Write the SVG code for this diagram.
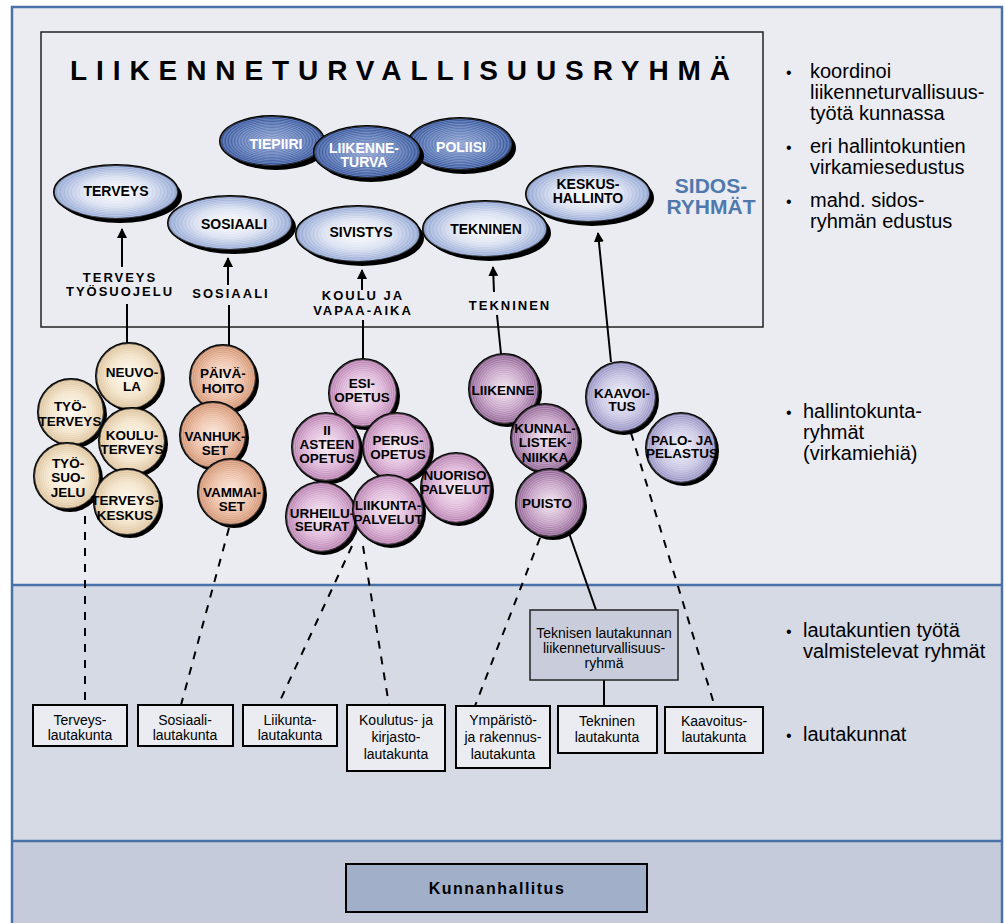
<svg xmlns="http://www.w3.org/2000/svg" width="1006" height="923" viewBox="0 0 1006 923">
<style>
.f{font-family:"Liberation Sans",Arial,sans-serif}
.sh{fill:#000}
.o{stroke:#000;stroke-width:2}
.r{fill:url(#rings)}
.ct{font-family:"Liberation Sans",Arial,sans-serif;font-weight:bold;font-size:13.5px;text-anchor:middle;fill:#000}
.et{font-family:"Liberation Sans",Arial,sans-serif;font-weight:bold;font-size:14px;text-anchor:middle;fill:#000}
.wt{font-family:"Liberation Sans",Arial,sans-serif;font-weight:bold;font-size:14px;text-anchor:middle;fill:#fff}
.lb{font-family:"Liberation Sans",Arial,sans-serif;font-weight:bold;font-size:13px;text-anchor:middle;letter-spacing:2px;fill:#000}
.bx{fill:#eaecf1;stroke:#000;stroke-width:2}
.bt{font-family:"Liberation Sans",Arial,sans-serif;font-size:14px;text-anchor:middle;fill:#000}
.rt{font-family:"Liberation Sans",Arial,sans-serif;font-size:20px;fill:#000}
.sl{stroke:#000;stroke-width:2;fill:none}
.dl{stroke:#000;stroke-width:2;fill:none;stroke-dasharray:8 8}
</style>
<defs>
<radialGradient id="dkblue"><stop offset="0" stop-color="#8c9fd0"/><stop offset="0.6" stop-color="#5a78b6"/><stop offset="1" stop-color="#30509a"/></radialGradient>
<radialGradient id="ltblue"><stop offset="0" stop-color="#ffffff"/><stop offset="0.55" stop-color="#d9e0f1"/><stop offset="1" stop-color="#8ea3d2"/></radialGradient>
<radialGradient id="tan"><stop offset="0" stop-color="#fffaf1"/><stop offset="0.6" stop-color="#f3e4c9"/><stop offset="1" stop-color="#dbbf96"/></radialGradient>
<radialGradient id="orange"><stop offset="0" stop-color="#fbeade"/><stop offset="0.6" stop-color="#eab99e"/><stop offset="1" stop-color="#cf8d6a"/></radialGradient>
<radialGradient id="pink"><stop offset="0" stop-color="#f8edf5"/><stop offset="0.6" stop-color="#dcb2d6"/><stop offset="1" stop-color="#b479ab"/></radialGradient>
<radialGradient id="purple"><stop offset="0" stop-color="#f4e9f3"/><stop offset="0.6" stop-color="#c39dc3"/><stop offset="1" stop-color="#895a8d"/></radialGradient>
<radialGradient id="lav"><stop offset="0" stop-color="#f4f3fb"/><stop offset="0.6" stop-color="#c6c3e3"/><stop offset="1" stop-color="#8e8abf"/></radialGradient>
<radialGradient id="rings" r="0.03" spreadMethod="repeat"><stop offset="0" stop-color="#fff" stop-opacity="0"/><stop offset="0.5" stop-color="#fff" stop-opacity="0.25"/><stop offset="1" stop-color="#fff" stop-opacity="0"/></radialGradient>
<marker id="ah" viewBox="0 0 10 10" refX="9" refY="5" markerWidth="10" markerHeight="10" markerUnits="userSpaceOnUse" orient="auto"><path d="M0,0 L10,5 L0,10 z" fill="#000"/></marker>
</defs>

<g id="background">
<rect x="11" y="6" width="992" height="917" fill="#ebecf2"/>
<rect x="11" y="585" width="992" height="256" fill="#d6dae5"/>
<rect x="11" y="841" width="992" height="82" fill="#c6cbdb"/>
<line x1="11" y1="585" x2="1003" y2="585" stroke="#4a72a8" stroke-width="2.5"/>
<line x1="11" y1="841" x2="1003" y2="841" stroke="#4a72a8" stroke-width="2.5"/>
<path d="M12,923 V7 H1002 V923" fill="none" stroke="#4a72a8" stroke-width="2.5"/>
</g>

<g id="ryhma-box">
<rect x="41" y="32" width="722" height="295" fill="none" stroke="#222" stroke-width="1.5"/>
<text class="f" x="70" y="80" font-size="28" font-weight="bold" textLength="660" lengthAdjust="spacing">LIIKENNETURVALLISUUSRYHMÄ</text>
</g>

<g id="sidosryhmat-label">
<text class="f" font-size="21" font-weight="bold" fill="#4f79ad" text-anchor="middle"><tspan x="711" y="193">SIDOS-</tspan><tspan x="711" y="214">RYHMÄT</tspan></text>
</g>

<g id="connectors">
<line class="sl" x1="122" y1="267" x2="122" y2="229" marker-end="url(#ah)"/>
<line class="sl" x1="127" y1="304" x2="127" y2="345"/>
<line class="sl" x1="228" y1="285" x2="228" y2="258" marker-end="url(#ah)"/>
<line class="sl" x1="229" y1="305" x2="229" y2="346"/>
<line class="sl" x1="362" y1="290" x2="362" y2="270" marker-end="url(#ah)"/>
<line class="sl" x1="363" y1="320" x2="363" y2="360"/>
<line class="sl" x1="494" y1="292" x2="493" y2="267" marker-end="url(#ah)"/>
<line class="sl" x1="497" y1="315" x2="501" y2="354"/>
<line class="sl" x1="611" y1="362" x2="598" y2="233" marker-end="url(#ah)"/>
<line class="dl" x1="85" y1="516" x2="85" y2="705"/>
<line class="dl" x1="229" y1="528" x2="181" y2="705"/>
<line class="dl" x1="352" y1="546" x2="278" y2="705"/>
<line class="dl" x1="363" y1="546" x2="389" y2="705"/>
<line class="dl" x1="540" y1="538" x2="475" y2="706"/>
<line class="sl" x1="569" y1="533" x2="596" y2="610"/>
<line class="sl" x1="604" y1="680" x2="604" y2="706"/>
<line class="dl" x1="631" y1="433" x2="715" y2="707"/>
</g>

<g id="tiepiiri"><ellipse class="sh" cx="276" cy="145" rx="52" ry="25"/><ellipse class="o" fill="url(#dkblue)" cx="272" cy="141" rx="52" ry="25"/><ellipse class="r" cx="272" cy="141" rx="52" ry="25"/><text class="wt" x="276" y="149">TIEPIIRI</text></g>
<g id="poliisi"><ellipse class="sh" cx="464" cy="148" rx="52" ry="26"/><ellipse class="o" fill="url(#dkblue)" cx="460" cy="144" rx="52" ry="26"/><ellipse class="r" cx="460" cy="144" rx="52" ry="26"/><text class="wt" x="461" y="152">POLIISI</text></g>
<g id="liikenneturva"><ellipse class="sh" cx="371" cy="156" rx="53" ry="26"/><ellipse class="o" fill="url(#dkblue)" cx="367" cy="152" rx="53" ry="26"/><ellipse class="r" cx="367" cy="152" rx="53" ry="26"/><text class="wt"><tspan x="364" y="153">LIIKENNE-</tspan><tspan x="364" y="167">TURVA</tspan></text></g>

<g id="terveys"><ellipse class="sh" cx="120" cy="196" rx="62" ry="27"/><ellipse class="o" fill="url(#ltblue)" cx="116" cy="192" rx="62" ry="27"/><ellipse class="r" cx="116" cy="192" rx="62" ry="27"/><text class="et" x="116" y="196">TERVEYS</text></g>
<g id="sosiaali"><ellipse class="sh" cx="234" cy="227" rx="62" ry="27"/><ellipse class="o" fill="url(#ltblue)" cx="230" cy="223" rx="62" ry="27"/><ellipse class="r" cx="230" cy="223" rx="62" ry="27"/><text class="et" x="234" y="229">SOSIAALI</text></g>
<g id="sivistys"><ellipse class="sh" cx="362" cy="238" rx="62" ry="28"/><ellipse class="o" fill="url(#ltblue)" cx="358" cy="234" rx="62" ry="28"/><ellipse class="r" cx="358" cy="234" rx="62" ry="28"/><text class="et" x="361" y="237">SIVISTYS</text></g>
<g id="tekninen"><ellipse class="sh" cx="489" cy="233" rx="62" ry="28"/><ellipse class="o" fill="url(#ltblue)" cx="485" cy="229" rx="62" ry="28"/><ellipse class="r" cx="485" cy="229" rx="62" ry="28"/><text class="et" x="486" y="234">TEKNINEN</text></g>
<g id="keskushallinto"><ellipse class="sh" cx="592" cy="198" rx="62" ry="28"/><ellipse class="o" fill="url(#ltblue)" cx="588" cy="194" rx="62" ry="28"/><ellipse class="r" cx="588" cy="194" rx="62" ry="28"/><text class="et"><tspan x="588" y="189">KESKUS-</tspan><tspan x="588" y="203">HALLINTO</tspan></text></g>

<g id="labels">
<text class="lb"><tspan x="120" y="282">TERVEYS</tspan><tspan x="120" y="296">TYÖSUOJELU</tspan></text>
<text class="lb" x="231" y="298">SOSIAALI</text>
<text class="lb"><tspan x="363" y="300">KOULU JA</tspan><tspan x="363" y="315">VAPAA-AIKA</tspan></text>
<text class="lb" x="510" y="310">TEKNINEN</text>
</g>

<g id="neuvola"><circle class="sh" cx="132" cy="379" r="33"/><circle class="o" fill="url(#tan)" cx="129" cy="376" r="33"/><circle class="r" cx="129" cy="376" r="33"/><text class="ct"><tspan x="132" y="377">NEUVO-</tspan><tspan x="132" y="391">LA</tspan></text></g>
<g id="tyoterveys"><circle class="sh" cx="74" cy="415" r="33"/><circle class="o" fill="url(#tan)" cx="71" cy="412" r="33"/><circle class="r" cx="71" cy="412" r="33"/><text class="ct"><tspan x="70" y="411">TYÖ-</tspan><tspan x="70" y="426">TERVEYS</tspan></text></g>
<g id="kouluterveys"><circle class="sh" cx="135" cy="444" r="33"/><circle class="o" fill="url(#tan)" cx="132" cy="441" r="33"/><circle class="r" cx="132" cy="441" r="33"/><text class="ct"><tspan x="132" y="440">KOULU-</tspan><tspan x="132" y="454">TERVEYS</tspan></text></g>
<g id="tyosuojelu"><circle class="sh" cx="70" cy="479" r="33"/><circle class="o" fill="url(#tan)" cx="67" cy="476" r="33"/><circle class="r" cx="67" cy="476" r="33"/><text class="ct"><tspan x="68" y="468">TYÖ-</tspan><tspan x="68" y="482">SUO-</tspan><tspan x="68" y="497">JELU</tspan></text></g>
<g id="terveyskeskus"><circle class="sh" cx="130" cy="505" r="33"/><circle class="o" fill="url(#tan)" cx="127" cy="502" r="33"/><circle class="r" cx="127" cy="502" r="33"/><text class="ct"><tspan x="125" y="505">TERVEYS-</tspan><tspan x="125" y="520">KESKUS</tspan></text></g>

<g id="paivahoito"><circle class="sh" cx="226" cy="381" r="33"/><circle class="o" fill="url(#orange)" cx="223" cy="378" r="33"/><circle class="r" cx="223" cy="378" r="33"/><text class="ct"><tspan x="223" y="378">PÄIVÄ-</tspan><tspan x="223" y="393">HOITO</tspan></text></g>
<g id="vanhukset"><circle class="sh" cx="216" cy="438" r="33"/><circle class="o" fill="url(#orange)" cx="213" cy="435" r="33"/><circle class="r" cx="213" cy="435" r="33"/><text class="ct"><tspan x="215" y="441">VANHUK-</tspan><tspan x="215" y="455">SET</tspan></text></g>
<g id="vammaiset"><circle class="sh" cx="234" cy="495" r="33"/><circle class="o" fill="url(#orange)" cx="231" cy="492" r="33"/><circle class="r" cx="231" cy="492" r="33"/><text class="ct"><tspan x="232" y="497">VAMMAI-</tspan><tspan x="232" y="511">SET</tspan></text></g>

<g id="esiopetus"><circle class="sh" cx="366" cy="396" r="34"/><circle class="o" fill="url(#pink)" cx="363" cy="393" r="34"/><circle class="r" cx="363" cy="393" r="34"/><text class="ct"><tspan x="362" y="388">ESI-</tspan><tspan x="362" y="402">OPETUS</tspan></text></g>
<g id="iiasteen"><circle class="sh" cx="329" cy="450" r="34"/><circle class="o" fill="url(#pink)" cx="326" cy="447" r="34"/><circle class="r" cx="326" cy="447" r="34"/><text class="ct"><tspan x="327" y="435">II</tspan><tspan x="327" y="449">ASTEEN</tspan><tspan x="327" y="463">OPETUS</tspan></text></g>
<g id="perusopetus"><circle class="sh" cx="400" cy="450" r="34"/><circle class="o" fill="url(#pink)" cx="397" cy="447" r="34"/><circle class="r" cx="397" cy="447" r="34"/><text class="ct"><tspan x="398" y="445">PERUS-</tspan><tspan x="398" y="459">OPETUS</tspan></text></g>
<g id="nuorisopalvelut"><circle class="sh" cx="459" cy="491" r="35"/><circle class="o" fill="url(#pink)" cx="456" cy="488" r="35"/><circle class="r" cx="456" cy="488" r="35"/><text class="ct"><tspan x="455" y="480">NUORISO</tspan><tspan x="455" y="494">PALVELUT</tspan></text></g>
<g id="urheiluseurat"><circle class="sh" cx="324" cy="520" r="35"/><circle class="o" fill="url(#pink)" cx="321" cy="517" r="35"/><circle class="r" cx="321" cy="517" r="35"/><text class="ct"><tspan x="322" y="518">URHEILU-</tspan><tspan x="322" y="531">SEURAT</tspan></text></g>
<g id="liikuntapalvelut"><circle class="sh" cx="391" cy="513" r="35"/><circle class="o" fill="url(#pink)" cx="388" cy="510" r="35"/><circle class="r" cx="388" cy="510" r="35"/><text class="ct"><tspan x="388" y="510">LIIKUNTA-</tspan><tspan x="388" y="524">PALVELUT</tspan></text></g>

<g id="liikenne"><circle class="sh" cx="507" cy="392" r="35"/><circle class="o" fill="url(#purple)" cx="504" cy="389" r="35"/><circle class="r" cx="504" cy="389" r="35"/><text class="ct" x="503" y="395">LIIKENNE</text></g>
<g id="kunnallistekniikka"><circle class="sh" cx="548" cy="441" r="34"/><circle class="o" fill="url(#purple)" cx="545" cy="438" r="34"/><circle class="r" cx="545" cy="438" r="34"/><text class="ct"><tspan x="545" y="433">KUNNAL-</tspan><tspan x="545" y="447">LISTEK-</tspan><tspan x="545" y="462">NIIKKA</tspan></text></g>
<g id="puisto"><circle class="sh" cx="553" cy="506" r="34"/><circle class="o" fill="url(#purple)" cx="550" cy="503" r="34"/><circle class="r" cx="550" cy="503" r="34"/><text class="ct" x="547" y="508">PUISTO</text></g>

<g id="kaavoitus"><circle class="sh" cx="624" cy="400" r="35"/><circle class="o" fill="url(#lav)" cx="621" cy="397" r="35"/><circle class="r" cx="621" cy="397" r="35"/><text class="ct"><tspan x="622" y="398">KAAVOI-</tspan><tspan x="622" y="411">TUS</tspan></text></g>
<g id="palojapelastus"><circle class="sh" cx="684" cy="451" r="35"/><circle class="o" fill="url(#lav)" cx="681" cy="448" r="35"/><circle class="r" cx="681" cy="448" r="35"/><text class="ct"><tspan x="682" y="445">PALO- JA</tspan><tspan x="682" y="458">PELASTUS</tspan></text></g>

<g id="teknisen-ryhma"><rect x="530" y="610" width="148" height="70" fill="#c9cddb" stroke="#222" stroke-width="1.5"/><text class="bt" font-size="13"><tspan x="604" y="638">Teknisen lautakunnan</tspan><tspan x="604" y="653">liikenneturvallisuus-</tspan><tspan x="604" y="668">ryhmä</tspan></text></g>

<g id="terveyslautakunta"><rect class="bx" x="33" y="705" width="94" height="41"/><text class="bt"><tspan x="80" y="725">Terveys-</tspan><tspan x="80" y="740">lautakunta</tspan></text></g>
<g id="sosiaalilautakunta"><rect class="bx" x="138" y="705" width="95" height="41"/><text class="bt"><tspan x="185" y="725">Sosiaali-</tspan><tspan x="185" y="740">lautakunta</tspan></text></g>
<g id="liikuntalautakunta"><rect class="bx" x="243" y="705" width="94" height="41"/><text class="bt"><tspan x="290" y="725">Liikunta-</tspan><tspan x="290" y="740">lautakunta</tspan></text></g>
<g id="koulutuslautakunta"><rect class="bx" x="347" y="705" width="98" height="66"/><text class="bt"><tspan x="396" y="725">Koulutus- ja</tspan><tspan x="396" y="742">kirjasto-</tspan><tspan x="396" y="759">lautakunta</tspan></text></g>
<g id="ymparistolautakunta"><rect class="bx" x="456" y="706" width="94" height="62"/><text class="bt"><tspan x="503" y="725">Ympäristö-</tspan><tspan x="503" y="742">ja rakennus-</tspan><tspan x="503" y="759">lautakunta</tspan></text></g>
<g id="tekninenlautakunta"><rect class="bx" x="558" y="706" width="99" height="47"/><text class="bt"><tspan x="607" y="726">Tekninen</tspan><tspan x="607" y="742">lautakunta</tspan></text></g>
<g id="kaavoituslautakunta"><rect class="bx" x="665" y="707" width="98" height="46"/><text class="bt"><tspan x="714" y="726">Kaavoitus-</tspan><tspan x="714" y="742">lautakunta</tspan></text></g>

<g id="kunnanhallitus"><rect x="346" y="864" width="301" height="48" fill="#a2afc9" stroke="#000" stroke-width="2"/><text class="f" x="497" y="894" font-size="16" font-weight="bold" letter-spacing="1.5" text-anchor="middle">Kunnanhallitus</text></g>

<g id="side-notes">
<text class="rt"><tspan x="786" y="78" font-size="16">•</tspan><tspan x="810" y="78">koordinoi</tspan><tspan x="810" y="99">liikenneturvallisuus-</tspan><tspan x="810" y="120">työtä kunnassa</tspan></text>
<text class="rt"><tspan x="786" y="153" font-size="16">•</tspan><tspan x="810" y="153">eri hallintokuntien</tspan><tspan x="810" y="174">virkamiesedustus</tspan></text>
<text class="rt"><tspan x="786" y="207" font-size="16">•</tspan><tspan x="810" y="207">mahd. sidos-</tspan><tspan x="810" y="228">ryhmän edustus</tspan></text>
<text class="rt"><tspan x="786" y="418" font-size="16">•</tspan><tspan x="803" y="418">hallintokunta-</tspan><tspan x="803" y="439">ryhmät</tspan><tspan x="803" y="460">(virkamiehiä)</tspan></text>
<text class="rt"><tspan x="786" y="637" font-size="16">•</tspan><tspan x="803" y="637">lautakuntien työtä</tspan><tspan x="803" y="658">valmistelevat ryhmät</tspan></text>
<text class="rt"><tspan x="786" y="741" font-size="16">•</tspan><tspan x="803" y="741">lautakunnat</tspan></text>
</g>
</svg>
